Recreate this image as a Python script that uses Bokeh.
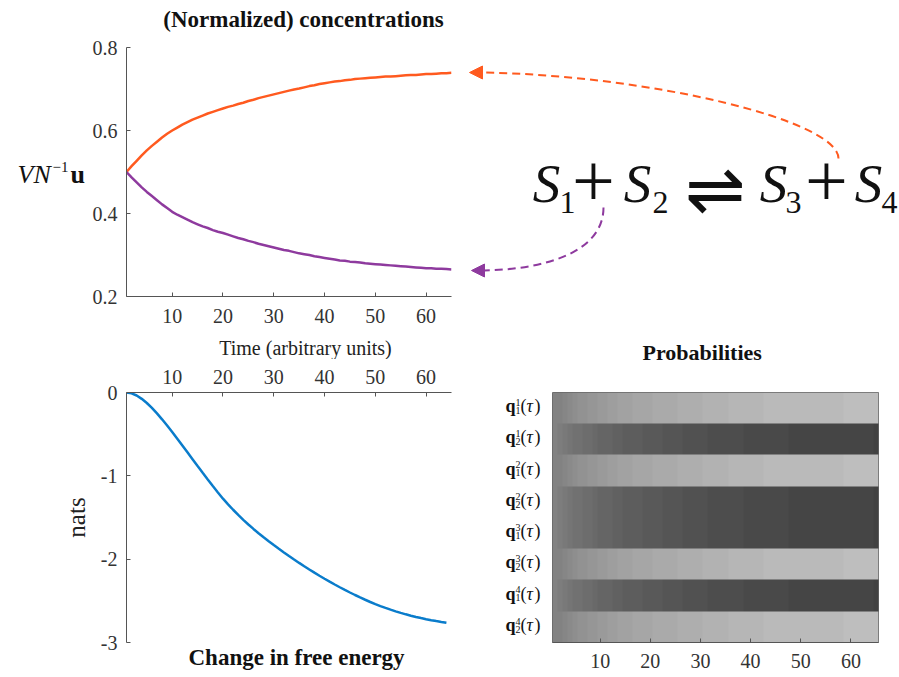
import numpy as np
from bokeh.plotting import figure
from bokeh.models import (Range1d, FixedTicker, LinearColorMapper, Arrow, NormalHead, Title)
from bokeh.layouts import column, row
from bokeh.embed import file_html
from bokeh.resources import INLINE
from bokeh.core.properties import value

# ---------------- data ----------------
time = list(range(1, 66))

# normalized concentration of products (rising) and substrates (falling)
conc_up = [0.500, 0.514, 0.527, 0.540, 0.552, 0.563, 0.573, 0.583, 0.592, 0.600,
           0.607, 0.614, 0.620, 0.626, 0.631, 0.636, 0.641, 0.645, 0.649, 0.653,
           0.657, 0.660, 0.664, 0.667, 0.671, 0.674, 0.678, 0.681, 0.684, 0.687,
           0.690, 0.693, 0.696, 0.699, 0.701, 0.704, 0.707, 0.709, 0.712, 0.714,
           0.716, 0.718, 0.719, 0.721, 0.722, 0.724, 0.725, 0.726, 0.727, 0.728,
           0.729, 0.730, 0.730, 0.731, 0.732, 0.733, 0.734, 0.734, 0.735, 0.736,
           0.736, 0.737, 0.738, 0.738, 0.739]
conc_down = [0.500, 0.487, 0.475, 0.463, 0.452, 0.442, 0.432, 0.422, 0.413, 0.404,
             0.397, 0.391, 0.385, 0.379, 0.374, 0.369, 0.365, 0.360, 0.356, 0.353,
             0.349, 0.345, 0.341, 0.338, 0.334, 0.331, 0.327, 0.324, 0.321, 0.318,
             0.315, 0.312, 0.310, 0.307, 0.304, 0.302, 0.300, 0.297, 0.295, 0.293,
             0.291, 0.289, 0.287, 0.286, 0.284, 0.283, 0.282, 0.280, 0.279, 0.278,
             0.277, 0.276, 0.275, 0.274, 0.273, 0.272, 0.271, 0.270, 0.269, 0.268,
             0.268, 0.267, 0.267, 0.266, 0.265]

# change in free energy (nats), t = 1..64
free_energy = [0.000, -0.010, -0.036, -0.076, -0.126, -0.185, -0.251, -0.322, -0.397, -0.475,
               -0.555, -0.636, -0.718, -0.800, -0.882, -0.963, -1.043, -1.122, -1.199, -1.274,
               -1.342, -1.407, -1.469, -1.528, -1.584, -1.637, -1.688, -1.737, -1.784, -1.830,
               -1.875, -1.919, -1.962, -2.004, -2.045, -2.085, -2.124, -2.162, -2.199, -2.235,
               -2.270, -2.304, -2.337, -2.369, -2.400, -2.430, -2.459, -2.487, -2.514, -2.539,
               -2.563, -2.585, -2.606, -2.626, -2.645, -2.662, -2.678, -2.693, -2.707, -2.720,
               -2.732, -2.743, -2.753, -2.762]
fe_time = time[:len(free_energy)]

# probability rows (top to bottom): factor superscript, state subscript, trend
row_factor = [1, 1, 2, 2, 3, 3, 4, 4]
row_state = [1, 2, 1, 2, 1, 2, 1, 2]
row_trend = ["up", "down", "up", "down", "down", "up", "down", "up"]

x_ticks = [10, 20, 30, 40, 50, 60]
conc_ticks = [0.2, 0.4, 0.6, 0.8]
fe_ticks = [0, -1, -2, -3]
fe_tick_text = {0: "0", -1: "-1", -2: "-2", -3: "-3"}

# ---------------- styling ----------------
FONT = "Liberation Serif"
AXC = "#555555"
TXT = "#333333"
BLK = "#111111"
ORANGE = "#FF5A1F"
PURPLE = "#8E3A9E"
BLUE = "#0A7CCB"
GRAYS = ["#%02x%02x%02x" % ((round(i / 63 * 255),) * 3) for i in range(64)]
MID = 0.3375  # distance (in em) from text-box middle to alphabetic baseline


def style_axis(ax, standoff):
    ax.axis_line_color = AXC
    ax.major_tick_line_color = AXC
    ax.major_tick_in = 4
    ax.major_tick_out = 0
    ax.minor_tick_line_color = None
    ax.major_label_text_font = FONT
    ax.major_label_text_font_size = "20px"
    ax.major_label_text_color = TXT
    ax.major_label_standoff = standoff


def strip(w, h, x0, y0, bl=0, br=0, bt=0, bb=0):
    """Axis-free panel; its frame coordinates equal page pixels (y downward).
    (x0, y0) is the page position of the panel's top-left corner."""
    f = figure(width=w, height=h,
               x_range=Range1d(x0 + bl, x0 + w - br), y_range=Range1d(y0 + h - bb, y0 + bt),
               x_axis_type=None, y_axis_type=None, output_backend="svg",
               toolbar_location=None, min_border_left=bl, min_border_right=br,
               min_border_top=bt, min_border_bottom=bb)
    f.outline_line_color = None
    return f


def txt(f, xs, baselines, texts, size, style="normal", align="left",
        font=FONT, color=BLK, mid=MID):
    ys = [b - mid * size for b in baselines]
    f.text(x=xs, y=ys, text=texts, text_font=value(font), text_font_size=f"{size}px",
           text_font_style=style, text_align=align, text_baseline="middle",
           text_color=color)


# ================= left column =================
T1 = strip(454, 36, 0, 0, bl=126, br=3)
txt(T1, [303], [26.5], ["(Normalized) concentrations"], 23, "bold", "center")

V = strip(86, 296, 0, 36, bt=11, bb=36)
txt(V, [17], [183], ["VN"], 26, "italic")
txt(V, [52], [172], ["\u22121"], 15)
txt(V, [70], [183], ["u"], 26, "bold")

A = figure(width=368, height=296, x_range=Range1d(1, 65), y_range=Range1d(0.2, 0.8),
           output_backend="svg", toolbar_location=None,
           min_border_left=40, min_border_right=3, min_border_top=11, min_border_bottom=36)
A.outline_line_color = None
A.grid.visible = False
A.xaxis.ticker = FixedTicker(ticks=x_ticks)
A.yaxis.ticker = FixedTicker(ticks=conc_ticks)
style_axis(A.xaxis[0], 12)
style_axis(A.yaxis[0], 9)
A.line(time, conc_up, line_color=ORANGE, line_width=2.5)
A.line(time, conc_down, line_color=PURPLE, line_width=2.5)

M = strip(454, 27, 0, 332, bl=126, br=3)
txt(M, [305], [354], ["Time (arbitrary units)"], 20, "normal", "center", color="#222222")

C = figure(width=454, height=317, x_range=Range1d(1, 65), y_range=Range1d(-3, 0),
           x_axis_location="above", output_backend="svg", toolbar_location=None,
           min_border_left=126, min_border_right=3, min_border_top=33, min_border_bottom=34)
C.outline_line_color = None
C.grid.visible = False
C.xaxis.ticker = FixedTicker(ticks=x_ticks)
C.yaxis.ticker = FixedTicker(ticks=fe_ticks)
C.yaxis.major_label_overrides = fe_tick_text
style_axis(C.xaxis[0], 9)
style_axis(C.yaxis[0], 9)
C.yaxis.axis_label = "nats"
C.yaxis.axis_label_text_font = FONT
C.yaxis.axis_label_text_font_size = "25px"
C.yaxis.axis_label_text_font_style = "normal"
C.yaxis.axis_label_text_color = "#222222"
C.yaxis.axis_label_standoff = 8
C.line(fe_time, free_energy, line_color=BLUE, line_width=2.5)
C.add_layout(Title(text="Change in free energy", align="left", offset=62,
                   text_font=FONT, text_font_size="23px", text_font_style="bold",
                   text_color=BLK, standoff=0, vertical_align="bottom"), "below")

left = column(T1, row(V, A), M, C)

# ================= right column =================
B = strip(445, 340, 454, 0)
txt(B, [546, 637, 773, 868], [202] * 4, ["S"] * 4, 55, "italic", "center")
txt(B, [567, 660, 793, 889], [213] * 4, ["1", "2", "3", "4"], 32, "normal", "center")
txt(B, [593, 826], [180, 180], ["+", "+"], 76, "normal", "center", mid=0.0)
txt(B, [715], [188], ["\u21cc"], 72, "normal", "center", font="DejaVu Sans", mid=0.0)

B.bezier(x0=[838], y0=[158], x1=[482], y1=[72], cx0=[838], cy0=[120], cx1=[650], cy1=[75],
         line_color=ORANGE, line_width=2, line_dash="8 5")
B.bezier(x0=[603], y0=[207], x1=[484], y1=[270], cx0=[603], cy0=[245], cx1=[560], cy1=[268],
         line_color=PURPLE, line_width=2, line_dash="8 5")
B.add_layout(Arrow(end=NormalHead(size=13, fill_color=ORANGE, line_color=ORANGE),
                   x_start=483, y_start=72, x_end=469, y_end=72, line_alpha=0))
B.add_layout(Arrow(end=NormalHead(size=13, fill_color=PURPLE, line_color=PURPLE),
                   x_start=485, y_start=270, x_end=471, y_end=270, line_alpha=0))

P = strip(445, 50, 454, 340)
txt(P, [701.7], [359], ["Probabilities"], 22, "bold", "center")

Q = strip(94, 286, 454, 390, bt=2, bb=34)
ycs = [392 + (i + 0.5) * 31.25 for i in range(8)]
txt(Q, [505] * 8, [y + 4 for y in ycs], ["q"] * 8, 18, "bold")
txt(Q, [515] * 8, [y - 2.5 for y in ycs], [str(v) for v in row_factor], 10)
txt(Q, [515] * 8, [y + 5.5 for y in ycs], [str(v) for v in row_state], 10)
txt(Q, [520] * 8, [y + 4 for y in ycs], ["("] * 8, 18)
txt(Q, [526] * 8, [y + 4 for y in ycs], ["\u03c4"] * 8, 18, "italic")
txt(Q, [534] * 8, [y + 4 for y in ycs], [")"] * 8, 18)

D = figure(width=351, height=286, x_range=Range1d(0.5, 65.5), y_range=Range1d(0.5, 8.5),
           output_backend="svg", toolbar_location=None,
           min_border_left=4, min_border_right=21, min_border_top=2, min_border_bottom=34)
D.outline_line_color = "#666666"
D.grid.visible = False
D.yaxis.visible = False
D.xaxis.ticker = FixedTicker(ticks=x_ticks)
style_axis(D.xaxis[0], 11)

rows_bottom_up = []
for trend in reversed(row_trend):
    rows_bottom_up.append(conc_up if trend == "up" else conc_down)
prob_matrix = np.array(rows_bottom_up, dtype=float)
D.image(image=[prob_matrix], x=0.5, y=0.5, dw=65, dh=8,
        color_mapper=LinearColorMapper(palette=GRAYS, low=0, high=1))

right = column(B, P, row(Q, D))

layout = row(left, right)
open("out.html", "w").write(file_html(layout, INLINE, title="chart"))
